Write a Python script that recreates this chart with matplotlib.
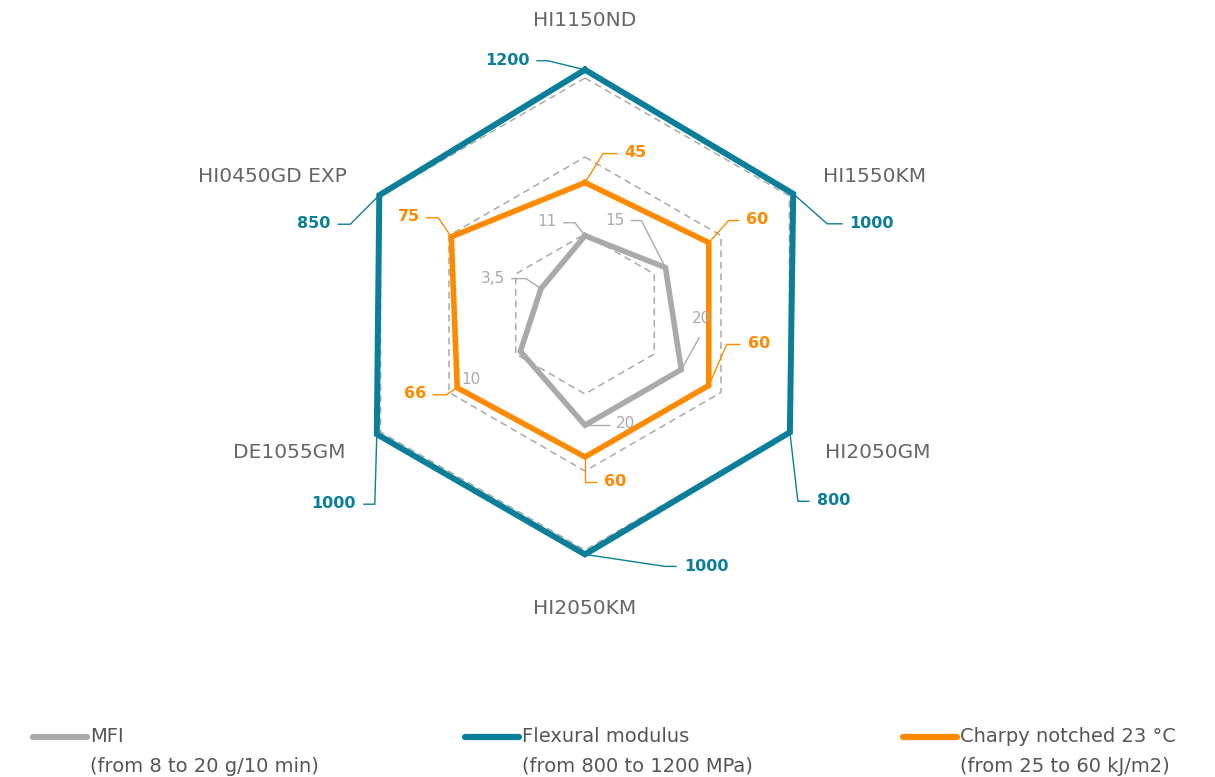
import numpy as np
import matplotlib.pyplot as plt
from matplotlib.lines import Line2D
from matplotlib.transforms import IdentityTransform

# categories and values
categories = ['HI1150ND', 'HI1550KM', 'HI2050GM', 'HI2050KM', 'DE1055GM', 'HI0450GD EXP']
mfi = [11, 15, 20, 20, 10, 3.5]
mfi_labels = ['11', '15', '20', '20', '10', '3,5']
flexural = [1200, 1000, 800, 1000, 1000, 850]
flexural_labels = ['1200', '1000', '800', '1000', '1000', '850']
charpy = [45, 60, 60, 60, 66, 75]
charpy_labels = ['45', '60', '60', '60', '66', '75']

legend_titles = ['MFI', 'Flexural modulus', 'Charpy notched 23 °C']
legend_ranges = ['(from 8 to 20 g/10 min)', '(from 800 to 1200 MPa)', '(from 25 to 60 kJ/m2)']

GRAY = '#aaaaaa'
TEAL = '#0b7f99'
ORANGE = '#ff8a00'
LABEL = '#666666'

W, H = 1215, 777
cx, cy, R = 585, 314, 300

# each series lives on its own ring: radius = a + b * value (radius in px)
scales = {'mfi': (38.0, 3.66), 'flex': (221.3, 0.0191), 'charpy': (96.9, 0.767)}
grid_r = [80, 157, 236]


def to_r(values, key):
    a, b = scales[key]
    return a + b * np.asarray(values, dtype=float)


fig = plt.figure(figsize=(W / 100, H / 100), dpi=100)
ax = fig.add_axes([(cx - R) / W, (H - cy - R) / H, 2 * R / W, 2 * R / H], projection='polar')
ax.set_theta_zero_location('N')
ax.set_theta_direction(-1)
ax.set_ylim(0, R)
ax.axis('off')

theta = np.deg2rad(np.arange(6) * 60)
th_closed = np.append(theta, theta[0])

for rg in grid_r:
    ax.plot(th_closed, [rg] * 7, color=GRAY, lw=1.1, ls=(0, (4.5, 3)), zorder=1)

series = [
    ('flex', flexural, TEAL, 4.3),
    ('charpy', charpy, ORANGE, 4.0),
    ('mfi', mfi, GRAY, 4.0),
]
for key, vals, col, lw in series:
    r = to_r(vals, key)
    ax.plot(th_closed, np.append(r, r[0]), color=col, lw=lw,
            solid_joinstyle='miter', zorder=3)

fig.canvas.draw()


def leader(th, r, pts, text, text_off, ha, color, size, weight):
    x0, y0 = ax.transData.transform((th, r))
    xs = [x0] + [x0 + dx for dx, dy in pts]
    ys = [y0] + [y0 + dy for dx, dy in pts]
    if pts:
        fig.add_artist(Line2D(xs, ys, transform=IdentityTransform(), color=color, lw=1.0, zorder=4))
    tx, ty = x0 + text_off[0], y0 + text_off[1]
    fig.text(tx / W, ty / H, text, ha=ha, va='center', color=color,
             fontsize=size, fontweight=weight, zorder=2)


# leader layouts (pixel offsets from the vertex)
flex_lead = [
    ([(-37, 9), (-48, 9)], (-55, 9), 'right'),
    ([(34, -30), (49, -30)], (56, -30), 'left'),
    ([(8, -69), (19, -69)], (27, -68), 'left'),
    ([(80, -12), (91, -12)], (99, -12), 'left'),
    ([(-2, -70), (-13, -70)], (-21, -69), 'right'),
    ([(-29, -29), (-41, -29)], (-49, -28), 'right'),
]
charpy_lead = [
    ([(18, 29), (32, 29)], (39, 30), 'left'),
    ([(20, 22), (30, 22)], (37, 23), 'left'),
    ([(18, 41), (31, 41)], (39, 42), 'left'),
    ([(0, -25), (11, -25)], (19, -25), 'left'),
    ([(-11, -7), (-24, -7)], (-31, -6), 'right'),
    ([(-13, 19), (-25, 19)], (-31, 20), 'right'),
]
mfi_lead = [
    ([(-10, 13), (-21, 13)], (-28, 14), 'right'),
    ([(-24, 47), (-34, 47)], (-41, 47), 'right'),
    ([(18, 32)], (20, 51), 'center'),
    ([(24, 0)], (31, 2), 'left'),
    ([], (-49, -28), 'center'),
    ([(-15, 10), (-29, 10)], (-36, 10), 'right'),
]

for key, vals, labels, lead, col, size, weight in [
    ('flex', flexural, flexural_labels, flex_lead, TEAL, 11.5, 'bold'),
    ('charpy', charpy, charpy_labels, charpy_lead, ORANGE, 11.5, 'bold'),
    ('mfi', mfi, mfi_labels, mfi_lead, GRAY, 11, 'normal'),
]:
    rr = to_r(vals, key)
    for th, r, lab, (pts, toff, ha) in zip(theta, rr, labels, lead):
        leader(th, r, pts, lab, toff, ha, col, size, weight)

# category names
cat_r = [293, 275, 277, 295, 276, 275]
cat_ha = ['center', 'left', 'left', 'center', 'right', 'right']
for th, name, r, ha in zip(theta, categories, cat_r, cat_ha):
    ax.text(th, r, name, ha=ha, va='center', color=LABEL, fontsize=14.5)

# legend
leg_x = [33, 465, 903]
for x, col, title, rng in zip(leg_x, [GRAY, TEAL, ORANGE], legend_titles, legend_ranges):
    fig.add_artist(Line2D([x / W, (x + 54) / W], [(H - 737) / H] * 2, color=col,
                          lw=4.5, solid_capstyle='round'))
    fig.text((x + 57) / W, (H - 736) / H, title, ha='left', va='center', color='#555555', fontsize=14)
    fig.text((x + 57) / W, (H - 766) / H, rng, ha='left', va='center', color='#555555', fontsize=14)

fig.savefig('out.png', dpi=100)
